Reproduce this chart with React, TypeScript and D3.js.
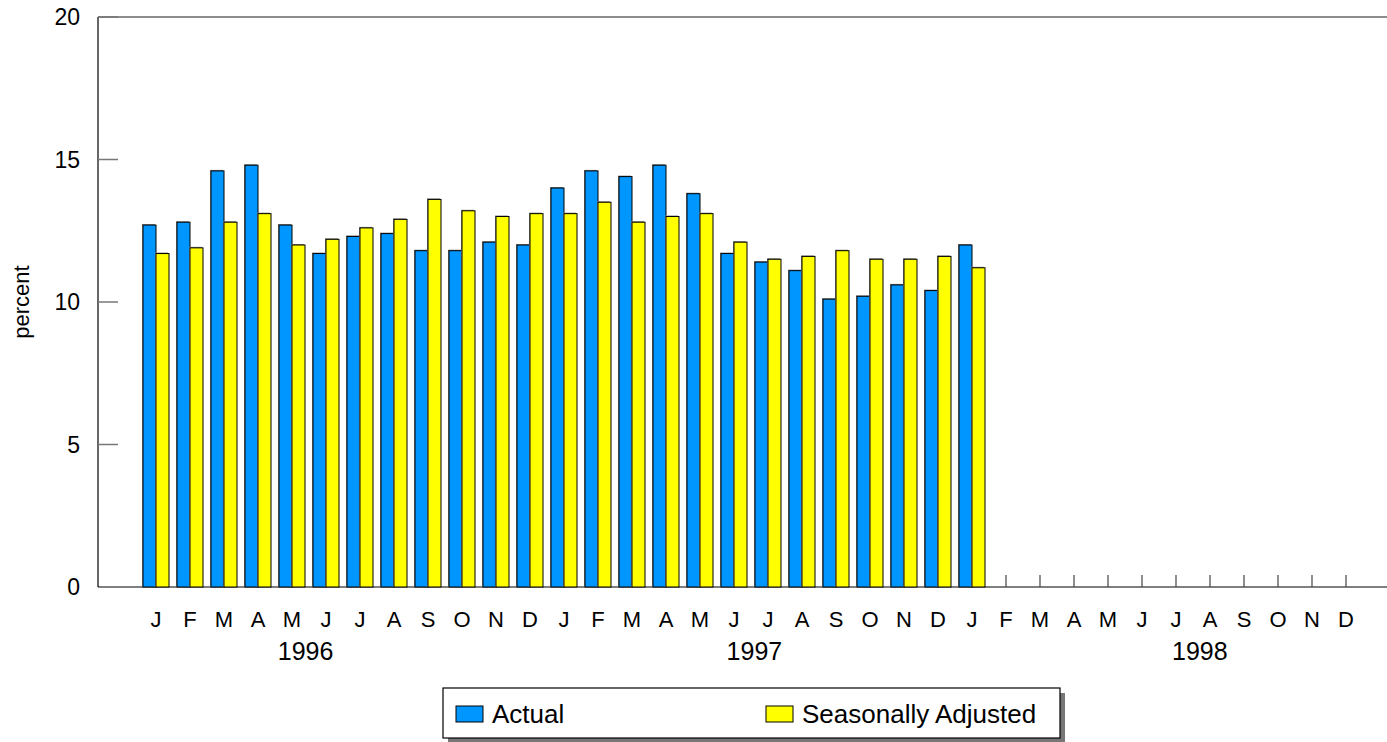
import React, { useEffect, useRef } from 'react';
import * as d3 from 'd3';

// months Jan 1996 .. Dec 1998
const months = ['J', 'F', 'M', 'A', 'M', 'J', 'J', 'A', 'S', 'O', 'N', 'D'];
const years = ['1996', '1997', '1998'];
// where the year label sits, in month steps from Jan 1996
const yearLabelAt = [4.4, 17.6, 30.7];

const actual = [
  12.7, 12.8, 14.6, 14.8, 12.7, 11.7, 12.3, 12.4, 11.8, 11.8, 12.1, 12.0,
  14.0, 14.6, 14.4, 14.8, 13.8, 11.7, 11.4, 11.1, 10.1, 10.2, 10.6, 10.4,
  12.0,
];
const seasonal = [
  11.7, 11.9, 12.8, 13.1, 12.0, 12.2, 12.6, 12.9, 13.6, 13.2, 13.0, 13.1,
  13.1, 13.5, 12.8, 13.0, 13.1, 12.1, 11.5, 11.6, 11.8, 11.5, 11.5, 11.6,
  11.2,
];
const yTicks = [0, 5, 10, 15, 20];
const seriesNames = ['Actual', 'Seasonally Adjusted'];
const seriesColors = ['#0096ff', '#ffff00'];

const W = 1387;
const H = 742;
const FONT = 'Liberation Sans, Arial, sans-serif';

export default function App() {
  const ref = useRef<SVGSVGElement>(null);

  useEffect(() => {
    document.body.style.margin = '0';
    if (!ref.current) return;
    const svg = d3.select(ref.current);
    svg.selectAll('*').remove();

    const left = 98;
    const top = 17;
    const bottom = 587;

    const idx = d3.range(36);
    const x = d3.scaleBand<number>().domain(idx).range([139, 1363]).padding(0);
    const sub = d3.scaleBand<string>().domain(['a', 's']).range([4, 30]).padding(0);
    const y = d3.scaleLinear().domain([0, 20]).range([bottom, top]);
    const step = x.step();
    const center = (i: number) => (x(0) as number) + x.bandwidth() / 2 + i * step;

    // frame
    svg.append('line').attr('x1', left).attr('x2', W).attr('y1', top).attr('y2', top)
      .attr('stroke', '#666').attr('stroke-width', 1.5);
    svg.append('line').attr('x1', left).attr('x2', W).attr('y1', bottom).attr('y2', bottom)
      .attr('stroke', '#555').attr('stroke-width', 1.5);
    svg.append('line').attr('x1', left).attr('x2', left).attr('y1', top).attr('y2', bottom)
      .attr('stroke', '#000').attr('stroke-width', 1.2);

    // y ticks
    const yg = svg.append('g');
    yTicks.forEach((t) => {
      if (t > 0) {
        yg.append('line').attr('x1', left).attr('x2', left + 20).attr('y1', y(t)).attr('y2', y(t))
          .attr('stroke', '#777').attr('stroke-width', 1.5);
      }
      yg.append('text').attr('x', 80).attr('y', y(t)).attr('dy', '0.35em')
        .attr('text-anchor', 'end').attr('font-family', FONT).attr('font-size', 23)
        .attr('fill', '#000').text(t);
    });

    svg.append('text')
      .attr('transform', `translate(29,${(top + bottom) / 2}) rotate(-90)`)
      .attr('text-anchor', 'middle').attr('font-family', FONT).attr('font-size', 22)
      .text('percent');

    // x ticks at category centres
    idx.forEach((i) => {
      svg.append('line').attr('x1', center(i)).attr('x2', center(i))
        .attr('y1', bottom).attr('y2', bottom - 12)
        .attr('stroke', '#444').attr('stroke-width', 1.2);
      svg.append('text').attr('x', center(i)).attr('y', 627)
        .attr('text-anchor', 'middle').attr('font-family', FONT).attr('font-size', 22)
        .text(months[i % 12]);
    });
    years.forEach((yr, k) => {
      svg.append('text').attr('x', center(yearLabelAt[k])).attr('y', 660)
        .attr('text-anchor', 'middle').attr('font-family', FONT).attr('font-size', 25)
        .text(yr);
    });

    // bars
    const drawBars = (vals: number[], key: string, color: string) => {
      const g = svg.append('g');
      vals.forEach((v, i) => {
        const bx = (x(i) as number) + (sub(key) as number);
        const bw = sub.bandwidth();
        g.append('rect').attr('x', bx - 1).attr('y', y(v) - 1)
          .attr('width', bw).attr('height', bottom - y(v) + 1).attr('fill', '#888');
        g.append('rect').attr('x', bx).attr('y', y(v))
          .attr('width', bw).attr('height', bottom - y(v))
          .attr('fill', color).attr('stroke', '#000').attr('stroke-width', 1);
      });
    };
    drawBars(actual, 'a', seriesColors[0]);
    drawBars(seasonal, 's', seriesColors[1]);

    // legend
    const lg = svg.append('g');
    lg.append('rect').attr('x', 448).attr('y', 693).attr('width', 617).attr('height', 50).attr('fill', '#777');
    lg.append('rect').attr('x', 443).attr('y', 688).attr('width', 617).attr('height', 50)
      .attr('fill', '#fff').attr('stroke', '#000').attr('stroke-width', 1.2);
    const legendX = [456, 766];
    seriesNames.forEach((name, k) => {
      lg.append('rect').attr('x', legendX[k]).attr('y', 706).attr('width', 27).attr('height', 16)
        .attr('fill', seriesColors[k]).attr('stroke', '#000').attr('stroke-width', 1);
      lg.append('text').attr('x', legendX[k] + 36).attr('y', 714).attr('dy', '0.35em')
        .attr('font-family', FONT).attr('font-size', 26).text(name);
    });
  }, []);

  return <svg ref={ref} width={W} height={H} style={{ display: 'block', background: '#fff' }} />;
}
